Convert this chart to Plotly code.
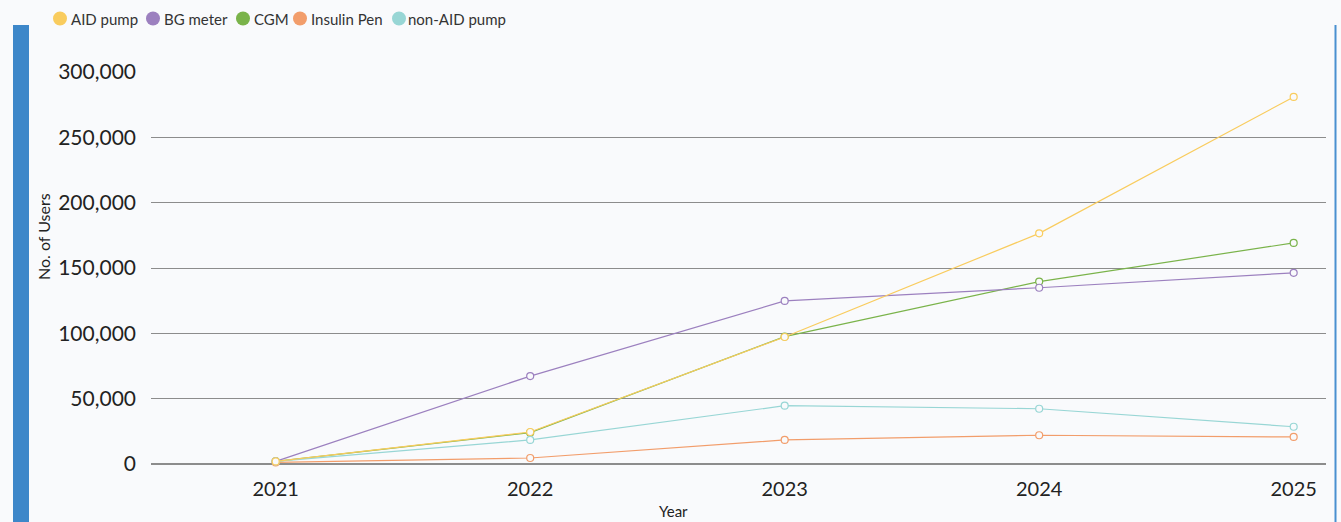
import plotly.graph_objects as go

years = ["2021", "2022", "2023", "2024", "2025"]

aid_pump = [2000, 24500, 97200, 176500, 280900]
bg_meter = [2000, 67300, 124800, 134900, 146300]
cgm = [2000, 24000, 97500, 139600, 169200]
insulin_pen = [1200, 4600, 18400, 22000, 20700]
non_aid_pump = [2000, 18400, 44600, 42300, 28500]

series_names = ["AID pump", "BG meter", "CGM", "Insulin Pen", "non-AID pump"]
series_colors = ["#f9cc5e", "#9c80bf", "#7ab34a", "#f29d6b", "#98d6d5"]
series_values = [aid_pump, bg_meter, cgm, insulin_pen, non_aid_pump]

y_ticks = [0, 50000, 100000, 150000, 200000, 250000, 300000]

BG = "#f9fafc"
FONT = "Lato, 'Open Sans', sans-serif"
W, H = 1341, 522
ML, MR, MT, MB = 151, 15, 72, 58
PW = W - ML - MR

fig = go.Figure()

# draw order: CGM underneath, AID pump on top
draw_order = [2, 1, 3, 4, 0]
for i in draw_order:
    fig.add_trace(go.Scatter(
        x=list(range(len(years))), y=series_values[i], name=series_names[i],
        mode="lines+markers",
        line=dict(color=series_colors[i], width=1.2),
        marker=dict(symbol="circle", size=7, color=BG,
                    line=dict(color=series_colors[i], width=1.2)),
        showlegend=False, hoverinfo="skip", cliponaxis=False,
    ))


def px_x(p):
    return (p - ML) / PW


def px_y(p):
    return 1 - (p - MT) / (H - MT - MB)


shapes = []
annotations = []

# legend row: colour dot + label (pixel positions across the top strip)
legend_dots = [60, 153, 243, 300, 399]
label_x = [69, 162, 252, 309, 406]
for name, col, dx, tx in zip(series_names, series_colors, legend_dots, label_x):
    shapes.append(dict(
        type="circle", xref="paper", yref="paper",
        xsizemode="pixel", ysizemode="pixel",
        xanchor=px_x(dx), yanchor=px_y(18.5),
        x0=-7, x1=7, y0=-7, y1=7,
        fillcolor=col, line=dict(width=0), layer="above",
    ))
    annotations.append(dict(
        text=name, xref="paper", yref="paper", x=px_x(tx), y=px_y(19),
        xanchor="left", yanchor="middle", showarrow=False,
        font=dict(family=FONT, size=15, color="#333333"),
    ))

# side accent bars
shapes.append(dict(type="rect", xref="paper", yref="paper",
                   x0=px_x(13), x1=px_x(29), y0=px_y(25), y1=px_y(530),
                   fillcolor="#3d87c9", line=dict(width=0), layer="above"))
shapes.append(dict(type="rect", xref="paper", yref="paper",
                   x0=px_x(1334.5), x1=px_x(1336.5), y0=px_y(25), y1=px_y(530),
                   fillcolor="#4a90d0", line=dict(width=0), layer="above"))

# axis titles
annotations.append(dict(
    text="No. of Users", xref="paper", yref="paper", x=px_x(43), y=px_y(237),
    textangle=-90, showarrow=False, xanchor="center", yanchor="middle",
    font=dict(family=FONT, size=16, color="#222222"),
))
annotations.append(dict(
    text="Year", xref="paper", yref="paper", x=px_x(673), y=px_y(522),
    showarrow=False, xanchor="center", yanchor="bottom",
    font=dict(family=FONT, size=15, color="#222222"),
))

fig.update_layout(
    width=W, height=H,
    margin=dict(l=ML, r=MR, t=MT, b=MB),
    paper_bgcolor=BG, plot_bgcolor=BG,
    showlegend=False,
    shapes=shapes, annotations=annotations,
    xaxis=dict(
        range=[-0.49, 4.127], tickmode="array",
        tickvals=list(range(len(years))), ticktext=years,
        showgrid=False, zeroline=False, showline=False,
        ticks="", ticklabelstandoff=11,
        tickfont=dict(family=FONT, size=20, color="#222222"),
    ),
    yaxis=dict(
        range=[0, 300000], tickmode="array", tickvals=y_ticks,
        ticktext=[f"{v:,}" for v in y_ticks],
        showgrid=True, gridcolor="#8c8c8c", gridwidth=1,
        zeroline=True, zerolinecolor="#8c8c8c", zerolinewidth=1.5,
        showline=False, ticks="", ticklabelstandoff=14,
        tickfont=dict(family=FONT, size=21, color="#222222"),
    ),
)

fig.write_html("out.html")
